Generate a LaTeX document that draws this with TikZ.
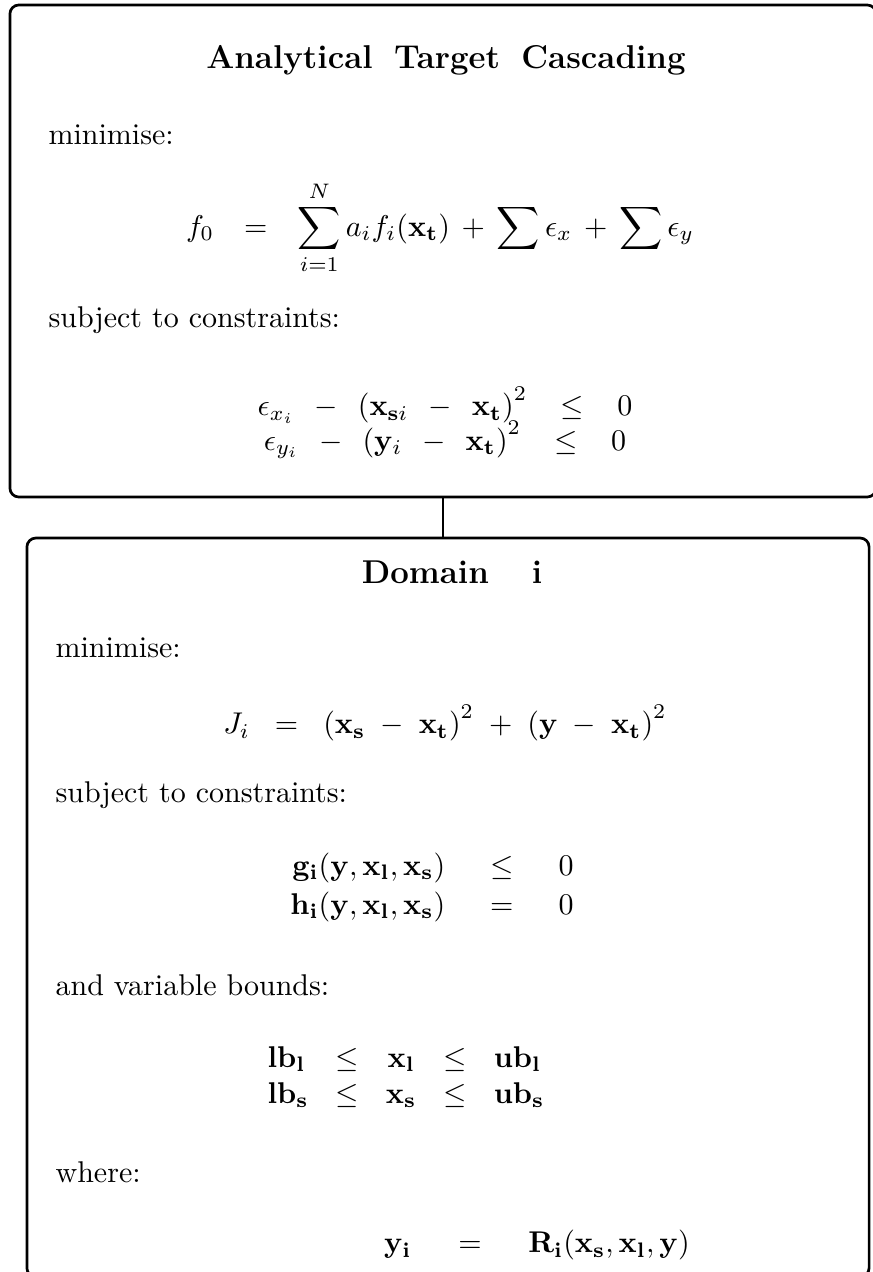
\documentclass[tikz,border=0pt]{standalone}
\usepackage{amsmath}
\begin{document}
\begin{tikzpicture}[x=0.3333pt,y=-0.3333pt,
  box/.style={draw, line width=0.9pt, rounded corners=3pt, inner sep=0pt},
  conn/.style={draw, line width=0.35pt},
  ttl/.style={font=\fontsize{11}{13}\selectfont\bfseries, inner sep=0pt},
  lbl/.style={anchor=west, inner sep=0pt},
  eq/.style={inner sep=0pt}]
\clip (0,0) rectangle (873,1272);
\useasboundingbox (0,0) rectangle (873,1272);
% boxes
\node[box, minimum width=288.7pt, minimum height=164pt] (atc) at (443,251) {};
\node[box, minimum width=280.7pt, minimum height=246.3pt] (dom) at (448,907.5) {};
\draw[conn] (atc.south) -- (atc.south |- dom.north);
% top box contents
\node[ttl] (t1) at (446,60) {Analytical\hspace{0.65em}Target\hspace{0.65em}Cascading};
\node[lbl] (m1) at (48,135) {minimise:};
\node[eq] (f0) at (440,228) {$\displaystyle f_0 \;\;\,=\;\;\, \sum_{i=1}^{N} a_i f_i(\mathbf{x_t}) \,+\, \sum \epsilon_x \,+\, \sum \epsilon_y$};
\node[lbl] (s1) at (48,320) {subject to constraints:};
\node[eq] (e1) at (445,405) {$\epsilon_{x_i} \;\,-\;\, \left(\mathbf{x}_{\mathbf{s}i} \;\,-\;\, \mathbf{x_t}\right)^2 \;\;\;\le\;\;\; 0$};
\node[eq] (e2) at (445,440) {$\epsilon_{y_i} \;\,-\;\, \left(\mathbf{y}_i \;\,-\;\, \mathbf{x_t}\right)^2 \;\;\;\le\;\;\; 0$};
% bottom box contents
\node[ttl] (t2) at (452,572) {Domain\hspace{1.3em}i};
\node[lbl] (m2) at (55,648) {minimise:};
\node[eq] (ji) at (445,723) {$J_i \;\;=\;\; \left(\mathbf{x_s} \;-\; \mathbf{x_t}\right)^2 \;+\; \left(\mathbf{y} \;-\; \mathbf{x_t}\right)^2$};
\node[lbl] (s2) at (55,795) {subject to constraints:};
\node[eq] (gh) at (432,887) {$\arraycolsep=7.5pt\renewcommand{\arraystretch}{1.08}\begin{array}{rcl}
  \mathbf{g_i}(\mathbf{y},\mathbf{x_l},\mathbf{x_s}) & \le & 0\\
  \mathbf{h_i}(\mathbf{y},\mathbf{x_l},\mathbf{x_s}) & = & 0
\end{array}$};
\node[lbl] (vb) at (55,985) {and variable bounds:};
\node[eq] (lb) at (406,1078) {$\arraycolsep=4.5pt\begin{array}{lcccl}
  \mathbf{lb_l} & \le & \mathbf{x_l} & \le & \mathbf{ub_l}\\
  \mathbf{lb_s} & \le & \mathbf{x_s} & \le & \mathbf{ub_s}
\end{array}$};
\node[lbl] (wh) at (55,1172) {where:};
\node[eq] (yi) at (537,1245) {$\mathbf{y_i} \quad\;=\quad\; \mathbf{R_i}(\mathbf{x_s},\mathbf{x_l},\mathbf{y})$};
\end{tikzpicture}
\end{document}
